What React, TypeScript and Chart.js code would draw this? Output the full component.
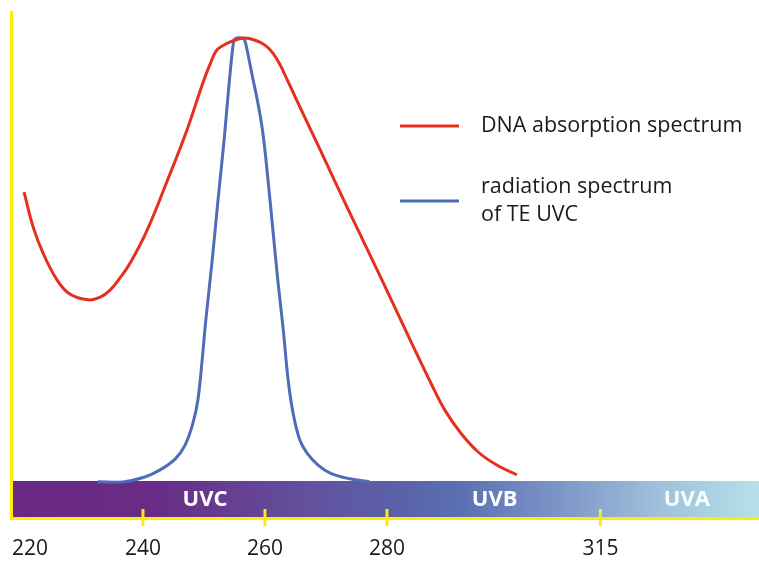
import React, { useEffect, useRef } from "react";
import { Chart, registerables } from "chart.js";

Chart.register(...registerables);

// Wavelength (nm) and relative values
const dnaX = [220.5, 222.0, 223.6, 225.9, 228.0, 231.0, 233.0, 234.6, 236.2, 237.9, 240.7, 243.9, 247.2, 249.8, 251.0, 252.0, 253.0, 254.6, 256.6, 258.4, 260.0, 261.3, 262.5, 263.6, 265.7, 269.0, 273.4, 278.9, 284.3, 287.1, 289.5, 292.0, 294.9, 298.0, 301.3];
const dnaY = [65.2, 57.3, 51.5, 45.4, 42.2, 40.9, 41.5, 43.1, 45.8, 49.2, 56.7, 67.5, 79.2, 89.8, 94.1, 97.1, 98.2, 99.3, 100, 99.5, 98.4, 96.6, 93.9, 90.7, 84.5, 74.9, 62.0, 46.2, 30.4, 22.4, 16.0, 11.0, 6.6, 3.6, 1.4];

const uvcX = [232.6, 236.7, 240.3, 242.8, 245.3, 246.9, 248.2, 249.0, 249.7, 250.3, 251.3, 252.3, 253.3, 254.1, 254.75, 255.0, 255.4, 256.2, 256.6, 256.9, 257.9, 258.9, 259.7, 260.5, 261.3, 262.1, 263.0, 263.8, 264.6, 265.7, 266.9, 268.7, 270.7, 273.9, 277.2];
const uvcY = [-0.2, -0.2, 0.9, 2.5, 5.0, 8.1, 13.1, 18.3, 27.3, 36.3, 49.2, 63.4, 77.0, 89.4, 98.2, 99.7, 100, 100, 99.7, 98.4, 91.6, 84.9, 78.1, 67.9, 56.7, 45.4, 34.1, 22.8, 15.4, 9.3, 6.3, 3.6, 1.8, 0.5, -0.2];

const tickValues = [220, 240, 260, 280, 315];
const tickLabels = ["220", "240", "260", "280", "315"];

const bandNames = ["UVC", "UVB", "UVA"];
const bandStarts = [220, 280, 315];
const bandEnds = [280, 315, 343];

const seriesLabels = ["DNA absorption spectrum", "radiation spectrum\nof TE UVC"];
const seriesColors = ["#e5301e", "#4f6cb8"];

const X_MIN = 218.36;
const X_MAX = 341;
const Y_MIN = -8.13;
const Y_MAX = 106.1;

const YELLOW = "#ffec00";
const FONT = "'Open Sans', 'Noto Sans', sans-serif";

const decorPlugin = {
  id: "decor",
  beforeDatasetsDraw(chart: any) {
    const { ctx, chartArea, scales } = chart;
    const xs = scales.x;
    const ys = scales.y;
    const barTop = ys.getPixelForValue(0);
    const barBottom = chartArea.bottom;
    ctx.save();
    const grad = ctx.createLinearGradient(chartArea.left, 0, chartArea.right, 0);
    grad.addColorStop(0, "#6a2784");
    grad.addColorStop(0.2, "#682d87");
    grad.addColorStop(0.386, "#634f9c");
    grad.addColorStop(0.52, "#5a62a9");
    grad.addColorStop(0.6, "#5a6fb3");
    grad.addColorStop(0.734, "#7d96c8");
    grad.addColorStop(0.87, "#a0c2dc");
    grad.addColorStop(1, "#b5e0e9");
    ctx.fillStyle = grad;
    ctx.fillRect(chartArea.left, barTop, chartArea.right - chartArea.left, barBottom - barTop);

    // band labels
    ctx.fillStyle = "#ffffff";
    ctx.font = `bold 22px ${FONT}`;
    ctx.textAlign = "center";
    ctx.textBaseline = "middle";
    bandNames.forEach((n, i) => {
      const a = Math.max(xs.getPixelForValue(bandStarts[i]), chartArea.left);
      const b = xs.getPixelForValue(bandEnds[i]);
      ctx.fillText(n, (a + b) / 2 + 1, (barTop + barBottom) / 2 + 1);
    });

    // yellow axes
    ctx.strokeStyle = YELLOW;
    ctx.lineWidth = 3;
    ctx.beginPath();
    ctx.moveTo(chartArea.left + 0.5, chartArea.top);
    ctx.lineTo(chartArea.left + 0.5, barBottom + 1.5);
    ctx.lineTo(chartArea.right, barBottom + 1.5);
    ctx.stroke();
    tickValues.forEach((v, i) => {
      if (i === 0) return;
      const px = xs.getPixelForValue(v);
      ctx.beginPath();
      ctx.moveTo(px, barBottom - 8);
      ctx.lineTo(px, barBottom + 9);
      ctx.stroke();
    });

    // tick labels
    ctx.fillStyle = "#1a1a1a";
    ctx.font = `21px ${FONT}`;
    ctx.textBaseline = "alphabetic";
    ctx.textAlign = "center";
    tickValues.forEach((v, i) => {
      let px = xs.getPixelForValue(v);
      const w = ctx.measureText(tickLabels[i]).width;
      px = Math.max(px, chartArea.left + 1 + w / 2);
      ctx.fillText(tickLabels[i], px, barBottom + 38);
    });

    // legend
    const legendY = [126, 201];
    ctx.lineWidth = 3;
    ctx.textAlign = "left";
    ctx.font = `21.5px ${FONT}`;
    seriesLabels.forEach((lab, i) => {
      ctx.strokeStyle = seriesColors[i];
      ctx.beginPath();
      ctx.moveTo(400, legendY[i]);
      ctx.lineTo(459, legendY[i]);
      ctx.stroke();
      const lines = lab.split("\n");
      const start = legendY[i] - ((lines.length - 1) * 28) / 2;
      ctx.textBaseline = "middle";
      lines.forEach((t, k) => ctx.fillText(t, 481, start + k * 28));
    });
    ctx.restore();
  },
};

export default function App() {
  const ref = useRef<HTMLCanvasElement>(null);
  useEffect(() => {
    const chart = new Chart(ref.current as HTMLCanvasElement, {
      type: "scatter",
      data: {
        datasets: [
          {
            label: seriesLabels[0],
            data: dnaX.map((x, i) => ({ x, y: dnaY[i] })),
            showLine: true,
            borderColor: seriesColors[0],
            borderWidth: 3,
            pointRadius: 0,
            tension: 0.4,
          },
          {
            label: seriesLabels[1],
            data: uvcX.map((x, i) => ({ x, y: uvcY[i] })),
            showLine: true,
            borderColor: seriesColors[1],
            borderWidth: 3,
            pointRadius: 0,
            tension: 0.4,
          },
        ],
      },
      options: {
        animation: false,
        responsive: false,
        maintainAspectRatio: false,
        layout: { padding: { left: 11, right: 0, top: 11, bottom: 45 } },
        plugins: { legend: { display: false }, tooltip: { enabled: false } },
        scales: {
          x: { type: "linear", min: X_MIN, max: X_MAX, display: false },
          y: { type: "linear", min: Y_MIN, max: Y_MAX, display: false },
        },
      },
      plugins: [decorPlugin],
    } as any);
    return () => chart.destroy();
  }, []);
  return (
    <div style={{ position: "fixed", left: 0, top: 0, width: 759, height: 562, background: "#fff" }}>
      <canvas ref={ref} width={759} height={562} style={{ width: 759, height: 562 }} />
    </div>
  );
}
